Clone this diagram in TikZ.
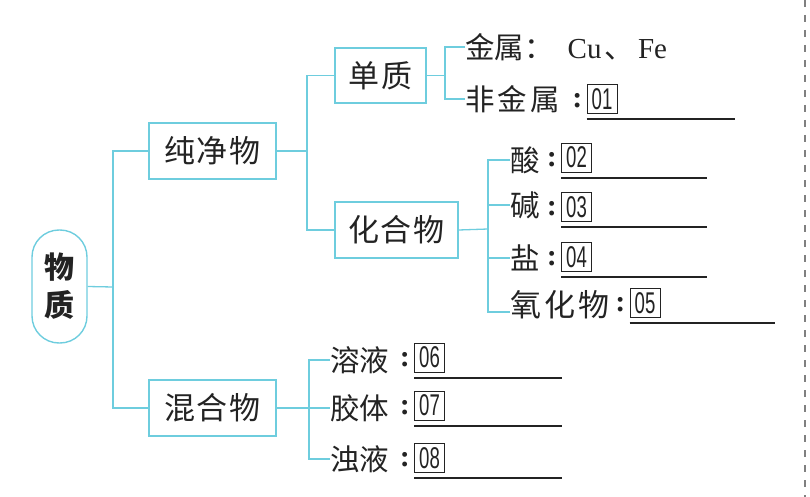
\documentclass[tikz,border=0pt]{standalone}
\usepackage{fontspec}
\newfontfamily\cjk{Noto Sans CJK SC}
\newfontfamily\numf[FakeStretch=0.62]{Liberation Sans}
\newfontfamily\latf{Liberation Serif}
\definecolor{lc}{RGB}{110,205,222}
\definecolor{ink}{RGB}{35,35,35}
\begin{document}
\begin{tikzpicture}[x=1pt,y=-1pt,
  conn/.style={draw=lc,line width=1.3pt},
  mainbox/.style={draw=lc,line width=1.4pt,inner sep=0pt,minimum height=56pt,text=ink,
    font=\cjk\fontsize{31}{31}\selectfont\addfontfeatures{LetterSpace=4}},
  leaf/.style={anchor=west,inner sep=0pt,text=ink,font=\cjk\fontsize{29.5}{29.5}\selectfont},
  ans/.style={draw=ink,line width=0.9pt,inner sep=0pt,minimum width=30pt,minimum height=29pt,
    text=ink,font=\numf\fontsize{30}{30}\selectfont,
    label={[text=ink,inner sep=0pt,yshift=-2pt,font=\latf\bfseries\fontsize{30}{30}\selectfont,label distance=4pt]left:{:}}},
  uline/.style={draw=ink,line width=1.3pt}]
\useasboundingbox (0,0) rectangle (810,497);
% dashed margin line
\coordinate (dt) at (805,0);
\coordinate (db) at (805,497);
\draw[gray,line width=1.5pt,dash pattern=on 7pt off 8pt] (dt) -- (db);
% root
\node[draw=lc,line width=1.4pt,rounded corners=27pt,minimum width=55pt,minimum height=113pt,
  inner sep=0pt,align=center,text=ink,font=\cjk\bfseries\fontsize{30}{38}\selectfont]
  (m) at (59.5,286.5) {物\\质};
% level 1
\node[mainbox,minimum width=127pt] (p) at (212.5,151) {纯净物};
\node[mainbox,minimum width=127pt] (h) at (212.5,408) {混合物};
\coordinate (j1) at (113,287);
\draw[conn] (m.east) -- (j1);
\draw[conn] (p.west) -| (j1) |- (h.west);
% level 2
\node[mainbox,minimum width=91pt,minimum height=55pt] (d) at (380.5,75.5) {单质};
\node[mainbox,minimum width=123pt] (c) at (396.5,230) {化合物};
\coordinate (j2) at (307,151);
\draw[conn] (p.east) -- (j2);
\draw[conn] (d.west) -| (j2) |- (c.west);
% 单质 leaves
\coordinate (j3) at (445,75.5);
\draw[conn] (d.east) -- (j3);
\node[leaf] (l1) at (465,47) {金属：\hspace{14pt}{\latf\fontsize{29}{29}\selectfont Cu}\hspace{3pt}、\hspace{4pt}{\latf\fontsize{29}{29}\selectfont Fe}};
\node[leaf,font=\cjk\fontsize{29.5}{29.5}\selectfont\addfontfeatures{LetterSpace=11}] (l2) at (465,99) {非金属};
\draw[conn] (l1.west) -| (j3) |- (l2.west);
\node[ans] (b1) at (602,99) {01};
\coordinate (e1) at (735,119);
\draw[uline] (b1.south west |- e1) -- (e1);
% 化合物 leaves
\coordinate (j4) at (488,229);
\draw[conn] (c.east) -- (j4);
\node[leaf] (k1) at (510,160) {酸};
\node[leaf] (k2) at (510,205) {碱};
\node[leaf] (k3) at (510,258) {盐};
\node[leaf,font=\cjk\fontsize{31}{31}\selectfont\addfontfeatures{LetterSpace=10}] (k4) at (510,305) {氧化物};
\draw[conn] (k1.west) -| (j4) |- ([yshift=-7pt]k4.west);
\draw[conn] (k2.west -| j4) -- (k2.west);
\draw[conn] (k3.west -| j4) -- (k3.west);
\node[ans] (b2) at (576.5,157.5) {02};
\node[ans] (b3) at (576.5,207) {03};
\node[ans] (b4) at (576.5,257) {04};
\node[ans] (b5) at (645,303) {05};
\coordinate (e2) at (707,178);
\coordinate (e3) at (707,227);
\coordinate (e4) at (707,277);
\coordinate (e5) at (775,323);
\draw[uline] (b2.south west |- e2) -- (e2);
\draw[uline] (b3.south west |- e3) -- (e3);
\draw[uline] (b4.south west |- e4) -- (e4);
\draw[uline] (b5.south west |- e5) -- (e5);
% 混合物 leaves
\coordinate (j5) at (309,408);
\draw[conn] (h.east) -- (j5);
\node[leaf] (s1) at (330,360) {溶液};
\node[leaf] (s2) at (330,408) {胶体};
\node[leaf] (s3) at (330,459) {浊液};
\draw[conn] (s1.west) -| (j5) |- (s3.west);
\draw[conn] (j5) -- (s2.west);
\node[ans] (b6) at (429.5,357.5) {06};
\node[ans] (b7) at (429.5,405.5) {07};
\node[ans] (b8) at (429.5,458) {08};
\coordinate (e6) at (562,378);
\coordinate (e7) at (562,426);
\coordinate (e8) at (562,478);
\draw[uline] (b6.south west |- e6) -- (e6);
\draw[uline] (b7.south west |- e7) -- (e7);
\draw[uline] (b8.south west |- e8) -- (e8);
\end{tikzpicture}
\end{document}
